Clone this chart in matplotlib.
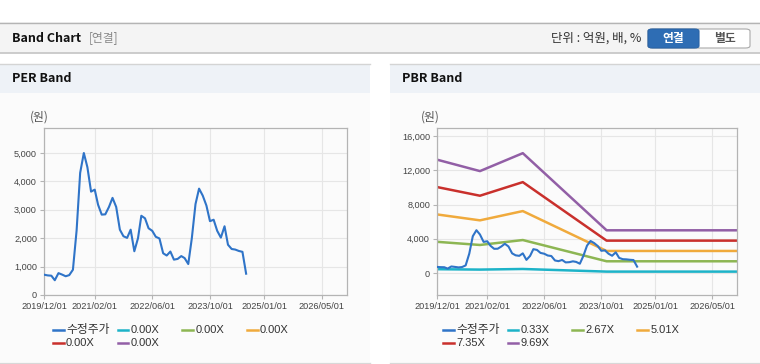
import matplotlib
matplotlib.use('Agg')
import matplotlib.pyplot as plt
from matplotlib.patches import Rectangle, FancyBboxPatch
from matplotlib.lines import Line2D
import pandas as pd

plt.rcParams['font.family'] = ['Liberation Sans', 'Noto Sans CJK KR', 'DejaVu Sans']

W, H = 760, 364

# adjusted close, monthly, 2019/12 .. 2024/08
price_dates = pd.date_range('2019-12-01', '2024-08-01', freq='MS')
price = [716, 690, 680, 520, 770, 720, 660, 700, 890, 2270,
         4300, 5000, 4500, 3640, 3710, 3180, 2830, 2840, 3100, 3420,
         3100, 2300, 2070, 2010, 2300, 1540, 2000, 2790, 2700, 2350,
         2260, 2050, 1990, 1470, 1390, 1530, 1245, 1270, 1370, 1300,
         1090, 2000, 3200, 3745, 3500, 3150, 2600, 2650, 2260, 2020,
         2420, 1770, 1620, 1600, 1550, 1520, 750]

# book value per share used for the PBR band
bps_dates = pd.to_datetime(['2019-12-01', '2020-12-01', '2021-12-01', '2023-11-15', '2026-12-01'])
bps = [1366, 1228, 1444, 515, 515]

pbr_multiples = [0.33, 2.67, 5.01, 7.35, 9.69]
per_labels = ['0.00X', '0.00X', '0.00X', '0.00X', '0.00X']
band_colors = ['#1db3c8', '#8db653', '#f0aa3c', '#c9302c', '#925fa6']
price_color = '#2f74c8'

tick_dates = ['2019-12-01', '2021-02-01', '2022-06-01', '2023-10-01', '2025-01-01', '2026-05-01']
tick_labels = ['2019/12/01', '2021/02/01', '2022/06/01', '2023/10/01', '2025/01/01', '2026/05/01']

KR = ['Noto Sans CJK KR', 'DejaVu Sans']


def fx(x):
    return x / W


def fy(y):
    return 1 - y / H


def box(fig, x0, y0, x1, y1, **kw):
    fig.add_artist(Rectangle((fx(x0), fy(y1)), (x1 - x0) / W, (y1 - y0) / H,
                             transform=fig.transFigure, zorder=-5, **kw))


def hline(fig, x0, x1, y, color, lw=1.0):
    fig.add_artist(Line2D([fx(x0), fx(x1)], [fy(y), fy(y)], transform=fig.transFigure,
                          color=color, lw=lw, zorder=-4))


fig = plt.figure(figsize=(W / 100, H / 100), dpi=100)
fig.patch.set_facecolor('white')

# top header bar
box(fig, 0, 22.5, W, 53, fc='#f4f4f4', ec='none')
hline(fig, 0, W, 22.5, '#b4b4b4')
hline(fig, 0, W, 53, '#c4c4c4', 1.2)
fig.text(fx(12), fy(38), 'Band Chart', fontsize=9, fontweight='bold', va='center',
         family=KR, color='#111')
fig.text(fx(89), fy(38), '[연결]', fontsize=8.5, va='center', color='#888', family=KR)
fig.text(fx(641), fy(38), '단위 : 억원, 배, %', fontsize=9, va='center', ha='right',
         color='#333', family=KR)
fig.add_artist(FancyBboxPatch((fx(648), fy(48)), (750 - 648) / W, 19 / H,
                              boxstyle='round,pad=0,rounding_size=0.006',
                              transform=fig.transFigure, fc='white', ec='#aaaaaa', lw=0.8))
fig.add_artist(FancyBboxPatch((fx(648), fy(48)), (699 - 648) / W, 19 / H,
                              boxstyle='round,pad=0,rounding_size=0.006',
                              transform=fig.transFigure, fc='#2e6db4', ec='#2a64a6', lw=0.8))
fig.text(fx(673.5), fy(38.5), '연결', fontsize=8.5, fontweight='bold', ha='center', va='center',
         color='white', family=KR)
fig.text(fx(724.5), fy(38.5), '별도', fontsize=8.5, fontweight='bold', ha='center', va='center',
         color='#555', family=KR)

panels = [
    dict(x0=0, x1=370, title='PER Band', ax=(44, 347), unit_x=30, leg_x=53,
         ylim=(0, 5880), yticks=[0, 1000, 2000, 3000, 4000, 5000], bands=None, labels=per_labels),
    dict(x0=390, x1=760, title='PBR Band', ax=(437, 737), unit_x=421, leg_x=443,
         ylim=(-2560, 16930), yticks=[0, 4000, 8000, 12000, 16000], bands=pbr_multiples,
         labels=['%.2fX' % m for m in pbr_multiples]),
]

for p in panels:
    box(fig, p['x0'], 64, p['x1'], 93, fc='#eef2f7', ec='none')
    hline(fig, p['x0'], p['x1'], 64, '#d4d4d4')
    box(fig, p['x0'], 93, p['x1'], 362, fc='#fbfbfb', ec='none')
    hline(fig, p['x0'], p['x1'], 362.5, '#d8d8d8')
    fig.text(fx(p['x0'] + 12), fy(79), p['title'], fontsize=9, fontweight='bold', va='center',
             family=KR, color='#111')
    fig.text(fx(p['unit_x']), fy(117), '(원)', fontsize=8.5, va='center', color='#555', family=KR)

    a0, a1 = p['ax']
    ax = fig.add_axes([fx(a0), fy(295), (a1 - a0) / W, (295 - 128) / H])
    ax.set_facecolor('#fbfbfb')
    if p['bands'] is not None:
        for m, c in zip(p['bands'], band_colors):
            ax.plot(bps_dates, [b * m for b in bps], color=c, lw=1.8, zorder=2)
    ax.plot(price_dates, price, color=price_color, lw=1.5, zorder=3)

    ax.set_xlim(pd.Timestamp('2019-12-01'), pd.Timestamp('2026-11-30'))
    ax.set_ylim(*p['ylim'])
    ax.set_xticks(pd.to_datetime(tick_dates))
    ax.set_xticklabels(tick_labels)
    ax.set_yticks(p['yticks'])
    ax.set_yticklabels(['{:,}'.format(v) for v in p['yticks']])
    ax.grid(True, color='#e6e6e6', lw=0.8, zorder=0)
    ax.set_axisbelow(True)
    for s in ax.spines.values():
        s.set_color('#b4b4b4')
        s.set_linewidth(0.9)
    ax.tick_params(axis='both', colors='#b4b4b4', labelcolor='#444', labelsize=6.6,
                   length=3, width=0.8, pad=2)

    # legend, drawn on a fixed column grid like the source widget
    entries = ['수정주가'] + p['labels']
    colors = [price_color] + band_colors
    for i, (lab, c) in enumerate(zip(entries, colors)):
        lx = p['leg_x'] + (i % 4) * 64.7
        ly = 330 + (i // 4) * 13.3
        fig.add_artist(Line2D([fx(lx), fx(lx + 10.5)], [fy(ly), fy(ly)],
                              transform=fig.transFigure, color=c, lw=1.8))
        fs = 8.5 if i == 0 else 8
        fig.text(fx(lx + 13), fy(ly), lab, fontsize=fs, va='center', color='#333')

fig.savefig('out.png', dpi=100, facecolor=fig.get_facecolor())
